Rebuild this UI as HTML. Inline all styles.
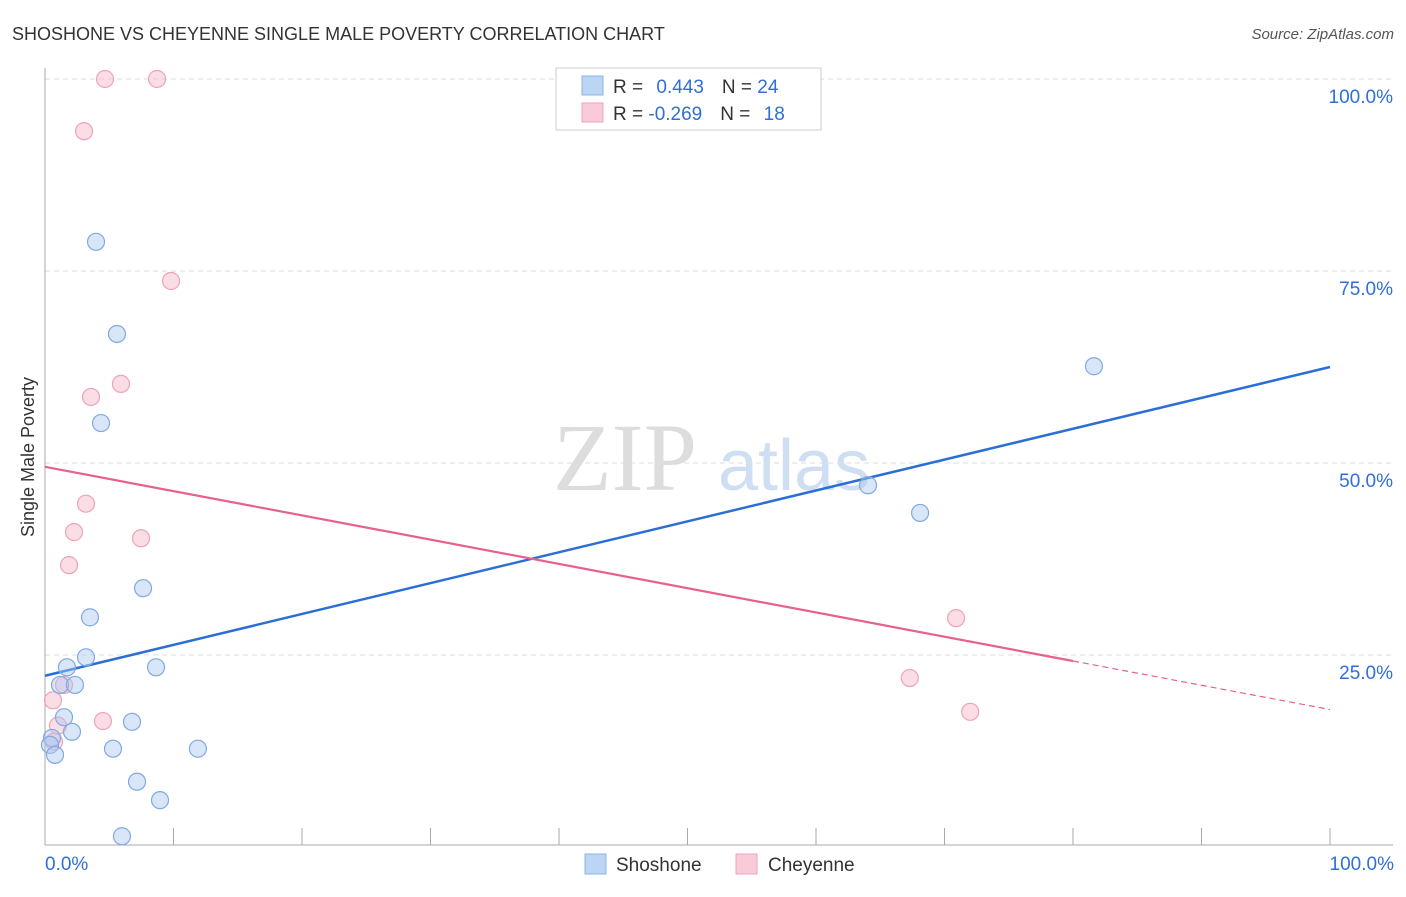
<!DOCTYPE html>
<html><head><meta charset="utf-8"><style>
body{margin:0;background:#fff;font-family:"Liberation Sans",sans-serif;}
svg text{font-family:"Liberation Sans",sans-serif;}
</style></head><body>
<svg id="chart" width="1406" height="892">
<text x="12" y="40" font-size="18" fill="#333">SHOSHONE VS CHEYENNE SINGLE MALE POVERTY CORRELATION CHART</text>
<text x="1394" y="39" font-size="15" fill="#555" font-style="italic" text-anchor="end">Source: ZipAtlas.com</text>
<text x="34" y="457" font-size="18" fill="#333" text-anchor="middle" transform="rotate(-90 34 457)">Single Male Poverty</text>
<text x="553" y="490" font-size="96" fill="#ddd" style="font-family:'Liberation Serif',serif">ZIP</text>
<text x="718" y="490" font-size="72" fill="#cfdff3">atlas</text>
<g id="grid"></g><g id="axes"></g><g id="lines"></g><g id="pts"></g>
<g>
<rect x="556" y="68" width="265" height="62" fill="#fff" stroke="#ccc"/>
<rect x="582" y="76" width="21" height="19" fill="#bcd5f5" stroke="#8ab3e6"/>
<rect x="582" y="103" width="21" height="19" fill="#f9cad8" stroke="#eea2b8"/>
<text x="613" y="93" font-size="19" fill="#333">R = <tspan fill="#2f6fd6" dx="8">0.443</tspan><tspan dx="18" fill="#333">N = </tspan><tspan fill="#2f6fd6">24</tspan></text>
<text x="613" y="120" font-size="19" fill="#333">R = <tspan fill="#2f6fd6">-0.269</tspan><tspan dx="18" fill="#333">N = </tspan><tspan fill="#2f6fd6" dx="8">18</tspan></text>
</g>
<g>
<rect x="585" y="854" width="21" height="20" fill="#bcd5f5" stroke="#8ab3e6"/>
<text x="616" y="871" font-size="19" fill="#333">Shoshone</text>
<rect x="736" y="854" width="21" height="20" fill="#f9cad8" stroke="#eea2b8"/>
<text x="768" y="871" font-size="19" fill="#333">Cheyenne</text>
</g>
<text x="45" y="870" font-size="19" fill="#2f6fd6">0.0%</text>
<text x="1394" y="870" font-size="19" fill="#2f6fd6" text-anchor="end">100.0%</text>
</svg>
<script>
const blueX=[3.97,5.6,4.36,7.63,3.5,3.19,1.71,8.64,1.17,2.33,1.48,2.1,6.77,0.54,0.39,5.29,11.9,0.78,7.16,8.95,5.99,64.05,68.1,81.63];
const blueY=[78.8,66.8,55.2,33.7,29.9,24.7,23.4,23.4,21.1,21.1,16.9,15.0,16.3,14.2,13.3,12.8,12.8,12.0,8.5,6.1,1.4,47.1,43.5,62.6];
const pinkX=[4.67,8.72,3.04,9.81,5.91,3.58,3.19,2.26,7.47,1.87,0.62,1.48,4.51,1.01,0.7,70.9,67.3,72.0];
const pinkY=[100,100,93.2,73.7,60.3,58.6,44.7,41.0,40.2,36.7,19.1,21.1,16.4,15.8,13.7,29.8,22.0,17.6];
const yTicks=[25,50,75,100];
const yTickLabels=["25.0%","50.0%","75.0%","100.0%"];
const blueLine=[22.3,62.5];
const pinkLine=[49.5,17.9];
const pinkSolidEnd=80;
const NS="http://www.w3.org/2000/svg";
const sx=v=>45+v*12.85, sy=v=>847-v*7.68;
function mk(tag,attrs,parent){const e=document.createElementNS(NS,tag);for(const k in attrs)e.setAttribute(k,attrs[k]);document.getElementById(parent).appendChild(e);return e;}
yTicks.forEach((t,i)=>{
 const g=mk('line',{x1:45,x2:1393,y1:sy(t),y2:sy(t),stroke:'#ddd','stroke-dasharray':'5,4'},'grid');
 
 
 const tx=mk('text',{x:1393,y:sy(t)+24,'font-size':19,fill:'#2f6fd6','text-anchor':'end'},'grid');
 tx.textContent=yTickLabels[i];
 
 
});
let a=mk('line',{x1:45,x2:45,y1:68,y2:845,stroke:'#aaa'},'axes');


a=mk('line',{x1:45,x2:1393,y1:845,y2:845,stroke:'#aaa'},'axes');


for(let i=1;i<=10;i++){const t=mk('line',{x1:sx(i*10),x2:sx(i*10),y1:828,y2:845,stroke:'#aaa'},'axes');
 
 }
let l=mk('line',{x1:sx(0),y1:sy(blueLine[0]),x2:sx(100),y2:sy(blueLine[1]),stroke:'#2b6fd6','stroke-width':2.5},'lines');


const pe=pinkLine[0]+(pinkLine[1]-pinkLine[0])*pinkSolidEnd/100;
l=mk('line',{x1:sx(0),y1:sy(pinkLine[0]),x2:sx(pinkSolidEnd),y2:sy(pe),stroke:'#e8608c','stroke-width':2.2},'lines');


l=mk('line',{x1:sx(pinkSolidEnd),y1:sy(pe),x2:sx(100),y2:sy(pinkLine[1]),stroke:'#e8608c','stroke-width':1.2,'stroke-dasharray':'6,4'},'lines');


pinkX.forEach((x,i)=>{const c=mk('circle',{cx:sx(x),cy:sy(pinkY[i]),r:8.5,fill:'rgba(247,180,200,0.45)',stroke:'#eea2b8','stroke-width':1.2},'pts');
 
 });
blueX.forEach((x,i)=>{const c=mk('circle',{cx:sx(x),cy:sy(blueY[i]),r:8.5,fill:'rgba(170,200,240,0.45)',stroke:'#7fa9e3','stroke-width':1.2},'pts');
 
 });
</script>
</body></html>
